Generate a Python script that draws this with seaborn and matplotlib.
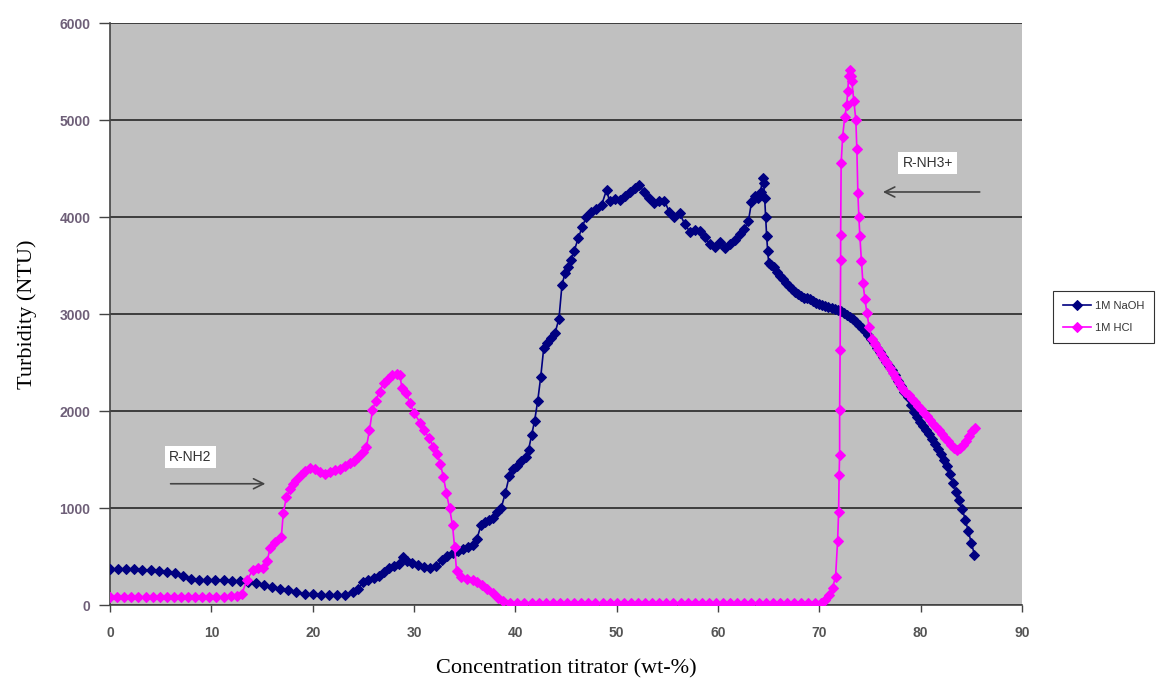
import matplotlib
matplotlib.use("Agg")
import matplotlib.pyplot as plt
import seaborn as sns
import pandas as pd

# 1M NaOH titration (navy)
naoh_x = [0, 0.8, 1.6, 2.4, 3.2, 4.0, 4.8, 5.6, 6.4, 7.2, 8.0, 8.8, 9.6, 10.4, 11.2, 12.0, 12.8,
          13.6, 14.4, 15.2, 16.0, 16.8, 17.6, 18.4, 19.2, 20.0, 20.8, 21.6, 22.4, 23.2, 24.0, 24.5,
          25.0, 25.5, 26.0, 26.5, 27.0, 27.5, 28.0, 28.5, 28.9, 29.3, 29.8, 30.4, 31.0, 31.6, 32.2,
          32.8, 33.3, 33.8, 34.3, 34.8, 35.3, 35.8, 36.2, 36.6, 37.0, 37.4, 37.8, 38.2, 38.6, 39.0,
          39.4, 39.8, 40.2, 40.6, 41.0, 41.3, 41.6, 41.9, 42.2, 42.5, 42.8, 43.1, 43.5, 43.9, 44.3,
          44.6, 44.9, 45.2, 45.5, 45.8, 46.2, 46.6, 47.0, 47.5, 48.0, 48.5, 49.0, 49.3, 49.8, 50.3,
          50.8, 51.3, 51.8, 52.2, 52.7, 53.2, 53.7, 54.2, 54.7, 55.2, 55.7, 56.2, 56.7, 57.2, 57.7,
          58.2, 58.7, 59.2, 59.7, 60.2, 60.7, 61.2, 61.7, 62.2, 62.6, 63.0, 63.3, 63.6, 63.9, 64.2,
          64.4, 64.5, 64.6, 64.7, 64.8, 64.9, 65.0, 65.2, 65.5, 65.8, 66.1, 66.4, 66.7, 67.0, 67.3,
          67.6, 67.9, 68.2, 68.5, 68.8, 69.1, 69.4, 69.7, 70.0, 70.3, 70.6, 70.9, 71.2, 71.5, 71.8,
          72.1, 72.4, 72.7, 73.0, 73.3, 73.6, 73.9, 74.2, 74.5, 74.8, 75.1, 75.4, 75.7, 76.0, 76.3,
          76.6, 76.9, 77.2, 77.5, 77.8, 78.1, 78.4, 78.7, 79.0, 79.3, 79.6, 79.9, 80.2, 80.5, 80.8,
          81.1, 81.4, 81.7, 82.0, 82.3, 82.6, 82.9, 83.2, 83.5, 83.8, 84.1, 84.4, 84.7, 85.0, 85.3]
naoh_y = [370, 370, 375, 370, 365, 360, 350, 340, 330, 300, 270, 255, 255, 255, 255, 250, 245,
          240, 225, 205, 190, 170, 150, 130, 115, 110, 105, 100, 100, 105, 130, 170,
          240, 260, 280, 300, 340, 380, 400, 420, 490, 450, 430, 410, 390, 385, 400,
          460, 510, 540, 560, 580, 600, 620, 680, 820, 860, 880, 900, 960, 1000, 1150,
          1330, 1400, 1430, 1480, 1530, 1600, 1750, 1900, 2100, 2350, 2650, 2700, 2750, 2800, 2950,
          3300, 3420, 3480, 3560, 3650, 3780, 3900, 4000, 4050, 4080, 4120, 4280, 4160, 4190, 4180,
          4220, 4260, 4300, 4330, 4260, 4200, 4140, 4170, 4170, 4050, 4000, 4040, 3930, 3850, 3870,
          3860, 3790, 3720, 3690, 3740, 3680, 3720, 3760, 3820, 3880, 3960, 4150, 4220, 4200, 4260,
          4400, 4350, 4200, 4000, 3800, 3650, 3530, 3510, 3480, 3430, 3390, 3360, 3320, 3290, 3260,
          3230, 3210, 3190, 3170, 3160, 3150, 3130, 3110, 3100, 3090, 3080, 3070, 3060, 3050, 3040,
          3030, 3010, 2990, 2970, 2950, 2920, 2890, 2860, 2820, 2780, 2740, 2700, 2650, 2610, 2560,
          2510, 2460, 2420, 2370, 2310, 2260, 2200, 2140, 2060, 1990, 1940, 1890, 1850, 1800, 1760,
          1710, 1660, 1610, 1560, 1500, 1430, 1350, 1260, 1170, 1080, 990, 880, 760, 640, 520]

# 1M HCl titration (magenta)
hcl_x = [0, 0.7, 1.4, 2.1, 2.8, 3.5, 4.2, 4.9, 5.6, 6.3, 7.0, 7.7, 8.4, 9.1, 9.8, 10.5, 11.2,
         11.9, 12.5, 13.0, 13.5, 14.1, 14.6, 15.1, 15.5, 15.8, 16.3, 16.9, 17.1, 17.4, 17.8, 18.1,
         18.4, 18.8, 19.2, 19.7, 20.2, 20.7, 21.2, 21.7, 22.2, 22.7, 23.2, 23.7, 24.1, 24.5, 25.0,
         25.3, 25.6, 25.9, 26.2, 26.6, 27.0, 27.4, 27.8, 28.3, 28.6, 28.8, 29.2, 29.6, 30.0, 30.6,
         31.0, 31.5, 31.9, 32.3, 32.6, 32.9, 33.2, 33.5, 33.8, 34.0, 34.2, 34.6, 35.2, 35.8, 36.2,
         36.7, 37.2, 37.8, 38.3, 38.8, 39.5, 40.2, 40.9, 41.6, 42.3, 43.0, 43.7, 44.4, 45.1, 45.8,
         46.5, 47.2, 47.9, 48.6, 49.3, 50.0, 50.7, 51.4, 52.1, 52.8, 53.5, 54.2, 54.9, 55.6, 56.3,
         57.0, 57.7, 58.4, 59.1, 59.8, 60.5, 61.2, 61.9, 62.6, 63.3, 64.0, 64.7, 65.4, 66.1, 66.8,
         67.5, 68.2, 68.9, 69.6, 70.2, 70.6, 71.0, 71.3, 71.6, 71.8, 71.9, 71.95, 72.0, 72.0, 72.05,
         72.1, 72.1, 72.15, 72.3, 72.5, 72.7, 72.8, 72.9, 73.0, 73.1, 73.2, 73.4, 73.6, 73.7, 73.8,
         73.9, 74.0, 74.15, 74.3, 74.5, 74.7, 74.9, 75.2, 75.5, 75.8, 76.1, 76.4, 76.7, 77.0, 77.3,
         77.6, 77.9, 78.2, 78.5, 78.8, 79.1, 79.4, 79.7, 80.0, 80.3, 80.6, 80.9, 81.2, 81.5, 81.8,
         82.1, 82.4, 82.7, 83.0, 83.3, 83.6, 83.9, 84.2, 84.5, 84.8, 85.1, 85.4]
hcl_y = [80, 80, 80, 80, 80, 80, 80, 80, 80, 80, 80, 80, 80, 80, 80, 85, 85,
         90, 95, 110, 260, 360, 380, 380, 450, 590, 650, 700, 950, 1110, 1200, 1250,
         1290, 1340, 1380, 1410, 1400, 1370, 1350, 1370, 1390, 1400, 1430, 1460, 1480, 1530, 1580,
         1630, 1800, 2010, 2100, 2200, 2290, 2330, 2370, 2380, 2370, 2240, 2190, 2080, 1980, 1880,
         1800, 1720, 1630, 1560, 1450, 1320, 1150, 1000, 820, 600, 350, 290, 270, 260, 240,
         210, 170, 120, 70, 40, 25, 20, 20, 20, 20, 20, 20, 20, 20, 20,
         20, 20, 20, 20, 20, 20, 20, 20, 20, 20, 20, 20, 20, 20, 20,
         20, 20, 20, 20, 20, 20, 20, 20, 20, 20, 20, 20, 20, 20, 20,
         20, 20, 20, 20, 25, 50, 100, 180, 290, 660, 960, 1340, 1550, 2010, 2630,
         3560, 3810, 4560, 4830, 5030, 5150, 5300, 5450, 5520, 5450, 5400, 5200, 5000, 4700, 4250,
         4000, 3800, 3550, 3320, 3150, 3010, 2870, 2740, 2690, 2640, 2590, 2540, 2490, 2440, 2390,
         2340, 2290, 2240, 2200, 2160, 2120, 2090, 2050, 2020, 1980, 1950, 1910, 1870, 1840, 1800,
         1760, 1720, 1690, 1650, 1620, 1600, 1620, 1650, 1690, 1740, 1790, 1820]

naoh_label = "1M NaOH"
hcl_label = "1M HCl"

fig = plt.figure(figsize=(11.56, 6.89), dpi=100)
ax = fig.add_axes([0.0952, 0.1219, 0.7889, 0.8447])
ax.set_facecolor("#c0c0c0")

df_naoh = pd.DataFrame({"x": naoh_x, "y": naoh_y})
df_hcl = pd.DataFrame({"x": hcl_x, "y": hcl_y})

sns.lineplot(data=df_naoh, x="x", y="y", sort=False, estimator=None, ax=ax,
             color="#000080", marker="D", markersize=5.5, markeredgecolor="#000080",
             linewidth=1.2, label=naoh_label, zorder=3)
sns.lineplot(data=df_hcl, x="x", y="y", sort=False, estimator=None, ax=ax,
             color="#ff00ff", marker="D", markersize=5.5, markeredgecolor="#ff00ff",
             linewidth=1.2, label=hcl_label, zorder=4)

ax.set_xlim(0, 90)
ax.set_ylim(0, 6000)
ax.set_xticks(range(0, 91, 10))
ax.set_yticks(range(0, 6001, 1000))
ax.yaxis.grid(True, color="#333333", linewidth=1.3, zorder=1)
ax.xaxis.grid(False)
ax.set_axisbelow(True)

for s in ["top", "right"]:
    ax.spines[s].set_visible(False)
for s in ["left", "bottom"]:
    ax.spines[s].set_color("#444444")
    ax.spines[s].set_linewidth(1.2)

ax.tick_params(axis="y", direction="out", length=8, width=1, color="#444444",
               labelsize=10, labelcolor="#6e5f78", pad=6)
ax.tick_params(axis="x", direction="out", length=5, width=1, color="#444444",
               labelsize=10, labelcolor="#555555", pad=10)
for lab in ax.get_xticklabels() + ax.get_yticklabels():
    lab.set_fontfamily("Liberation Sans")
    lab.set_fontweight("bold")

ax.set_xlabel("Concentration titrator (wt-%)", fontsize=16, family="Liberation Serif", labelpad=14)
ax.set_ylabel("Turbidity (NTU)", fontsize=16, family="Liberation Serif", labelpad=16)

# annotations
ax.text(7.9, 1525, "R-NH2", fontsize=10, family="Liberation Sans", color="#333333",
        ha="center", va="center", bbox=dict(facecolor="white", edgecolor="none", pad=3))
ax.annotate("", xy=(15.6, 1250), xytext=(5.7, 1250),
            arrowprops=dict(arrowstyle="->", color="#444444", lw=1.2, mutation_scale=18))
ax.text(80.7, 4557, "R-NH3+", fontsize=10, family="Liberation Sans", color="#333333",
        ha="center", va="center", bbox=dict(facecolor="white", edgecolor="none", pad=3))
ax.annotate("", xy=(76.0, 4258), xytext=(86.1, 4258),
            arrowprops=dict(arrowstyle="->", color="#444444", lw=1.2, mutation_scale=18))

leg = ax.legend(loc="upper left", bbox_to_anchor=(0.906, 0.586), bbox_transform=fig.transFigure,
                frameon=True, fancybox=False, fontsize=8, handlelength=2.5,
                borderpad=0.9, labelspacing=1.1, handletextpad=0.4)
leg.get_frame().set_edgecolor("black")
leg.get_frame().set_linewidth(0.8)
for t in leg.get_texts():
    t.set_fontfamily("Liberation Sans")
    t.set_color("#333333")

fig.savefig("out.png", dpi=100)
